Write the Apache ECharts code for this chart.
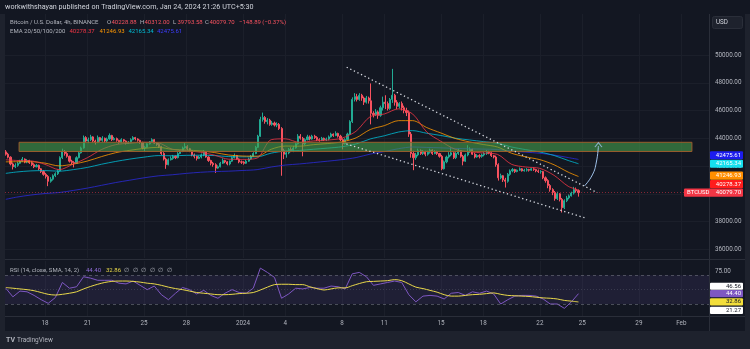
<!DOCTYPE html>
<html><head><meta charset="utf-8">
<script src="https://cdn.jsdelivr.net/npm/echarts@6/dist/echarts.min.js"></script>
<style>html,body{margin:0;padding:0;background:#1e222d;}#c{width:750px;height:349px;}</style>
</head><body><div id="c"></div><script>
// ---------------- DATA (chart local time, UTC+5:30, stored as UTC) ----------------
const candleStart = '2023-12-15 05:30';   // first 4h candle
const candleHours = 4;
const firstOpen = 43020;                  // open of the first candle; later opens = previous close
const closes = [
42850,42640,42150,41950,42050,
42200,42350,42500,42280,42400,42240,
42100,41950,42050,41800,41600,41400,
41250,40900,41050,41300,41450,41650,
42600,43050,42900,42700,42350,42250,
42200,42600,42950,43300,44050,43800,
43900,44100,43800,43700,44050,43850,
44000,43800,43950,44200,43900,43980,
43850,43700,43900,43800,43650,43720,
43900,44050,43950,43850,43700,43300,
43350,43600,43750,43900,43650,43550,
43400,42900,42500,42100,42450,42550,
42700,42600,42900,43050,43300,43400,
43250,43100,42800,42700,42550,42650,
42800,43000,42650,42400,42200,42100,
41850,41950,42200,42400,42300,42150,
42350,42600,42750,42500,42300,42280,
42200,42350,42500,42700,42900,43350,
44150,45350,45500,45200,45300,45000,
45100,44950,45000,44700,43100,42850,
42950,43200,43100,43300,43600,44150,
44000,43600,43900,44100,43950,44150,
44050,43900,43850,44000,43900,43950,
44100,44300,44200,44350,44150,43900,
43600,43900,44300,45200,46800,47000,
46800,47100,46900,46600,46900,46700,
45800,45700,45900,45650,46200,46600,
46500,46150,46800,47100,46600,46300,
46500,46200,46000,45850,44300,42900,
42600,42800,43100,42900,43000,42850,
43000,43150,42900,43050,42900,42700,
41800,42300,42650,42800,42950,42600,
42900,43100,42700,42350,42800,43050,
43200,42850,42650,42750,42700,42800,
42900,43000,42950,42750,42650,42100,
41150,41300,41000,40900,41400,41650,
41750,41600,41700,41800,41650,41700,
41750,41700,41800,41750,41650,41600,
41600,41150,40950,40600,40300,40100,
39650,40000,39600,39000,39500,39700,
39850,40050,40300,40228.88,40079.70];
const highs = [
43150,42950,42700,42250,42200,
42300,42450,42650,42550,42500,42450,
42350,42200,42150,42100,41850,41700,
41500,41350,41200,41400,41550,41750,
42700,43250,43150,43000,42750,42450,
42350,42700,43050,43400,44200,44150,
44050,44250,44150,43900,44200,44100,
44150,44050,44050,44350,44250,44100,
44050,43900,44000,43950,43850,43800,
44000,44150,44100,44000,43900,43750,
43450,43650,43800,44000,43950,43700,
43650,43450,43000,42600,42550,42700,
42800,42750,43000,43150,43400,43650,
43500,43300,43150,42900,42750,42750,
42900,43150,43050,42700,42450,42300,
42200,42050,42300,42550,42450,42350,
42400,42700,42900,42800,42550,42400,
42350,42450,42600,42800,43000,43450,
44250,45550,45850,45600,45450,45400,
45250,45200,45150,45100,44800,43250,
43100,43300,43350,43450,43700,44300,
44300,44100,44000,44250,44200,44250,
44250,44150,44000,44100,44050,44050,
44200,44400,44350,44500,44400,44250,
44000,44000,44400,45300,46950,47250,
47200,47250,47200,47000,47050,47000,
47950,45950,46100,46000,46350,47000,
47100,46650,46900,49000,47200,46750,
46600,46650,46350,46200,46000,44450,
43100,42950,43250,43200,43150,43100,
43100,43250,43200,43150,43100,42950,
42800,42400,42750,43000,43350,43000,
43000,43250,43150,42800,42900,43500,
43350,43250,42950,42850,42850,42900,
43000,43150,43100,43000,42800,42750,
42200,41450,41350,41150,41500,41750,
41850,41800,41750,41900,41850,41800,
41850,41800,41850,41900,41800,41750,
41700,41650,41250,41050,40700,40400,
40200,40150,40050,39700,39600,39850,
39950,40150,40500,40450,40312];
const lows = [
42750,42550,42050,41750,41850,
41950,42150,42300,42200,42200,42150,
42000,41850,41900,41700,41500,41300,
41100,40550,40800,40950,41200,41350,
41600,42500,42750,42600,42250,42100,
41900,42150,42550,42900,43250,43700,
43650,43800,43700,43550,43650,43750,
43750,43700,43700,43900,43800,43850,
43750,43600,43650,43700,43550,43600,
43650,43850,43850,43750,43600,43200,
43050,43300,43550,43700,43600,43450,
43300,42800,42400,41800,42050,42400,
42450,42500,42550,42850,43000,43250,
43150,43000,42700,42550,42400,42500,
42550,42700,42600,42300,42050,41950,
41500,41800,41900,42150,42200,42050,
42050,42300,42550,42450,42200,42150,
42100,42150,42300,42450,42650,42850,
43300,44100,45200,45050,45000,44900,
44900,44850,44800,44600,41300,42500,
42600,42850,43000,43000,43250,43550,
43900,42700,43500,43850,43850,43900,
43950,43800,43750,43800,43800,43800,
43850,44050,44100,44150,44050,43800,
43200,43550,43850,44250,45100,46650,
46650,46700,46700,46400,46500,46500,
45000,45500,45600,45400,45550,46000,
46100,46000,46050,46550,46350,46100,
46150,46000,45800,45600,44100,42600,
41700,42450,42700,42800,42800,42700,
42750,42900,42800,42850,42800,42600,
41700,41750,42200,42550,42700,42500,
42500,42800,42600,42050,42300,42700,
42950,42800,42550,42600,42550,42600,
42700,42800,42850,42650,42550,41950,
40950,41050,40850,40450,40800,41300,
41550,41500,41550,41650,41600,41600,
41600,41600,41650,41650,41550,41500,
41450,41050,40800,40400,40150,39900,
39500,39550,39450,38650,38900,39400,
39600,39800,39950,40100,39793.58];

// EMA readings: first candle, then each local midnight Dec 16 .. Jan 24, then last candle
const emaFirstTime = '2023-12-15 05:30';
const emaDailyStart = '2023-12-16 00:00';
const emaLastTime = '2024-01-24 17:30';
const ema20 = [42450,42400,42370,42120,41740,42140,42600,43190,43540,43640,43710,43670,43210,43110,42990,42780,42490,42480,42570,43900,43960,43700,43810,43870,44010,44510,45560,45750,46120,45750,44450,43780,43210,43030,42940,42840,42120,41930,41830,41330,40540,40278.37];
const ema50 = [42300,42310,42310,42210,42010,42140,42360,42680,42960,43130,43270,43350,43200,43150,43090,42970,42790,42720,42710,43210,43440,43430,43540,43620,43740,44030,44630,44910,45270,45270,44770,44380,43990,43740,43550,43370,42920,42660,42460,42090,41560,41246.93];
const ema100 = [41470,41570,41650,41670,41630,41740,41900,42130,42330,42500,42640,42750,42740,42770,42780,42750,42680,42660,42660,42930,43080,43120,43210,43290,43390,43590,43950,44180,44450,44550,44360,44200,44010,43880,43760,43640,43370,43180,43010,42760,42400,42165.34];
const ema200 = [39600,39760,39910,40020,40090,40240,40410,40610,40810,40980,41150,41290,41370,41470,41550,41600,41630,41680,41740,41930,42070,42150,42250,42350,42460,42610,42860,43040,43250,43370,43340,43310,43270,43240,43220,43190,43080,43000,42920,42790,42610,42475.61];

// RSI(14) and its SMA(14), read every 12 h from the first candle
const rsiStepHours = 12;
const rsi = [52,40,48,47,42,36,31,39,60,52, 54,68,66,63,63,63,59,58,62,56, 50,55,43,36,45,53,50,44,49,42, 38,45,50,46,45,52,80,74,67,38, 44,52,51,53,52,52,55,54,51,72, 74,68,56,58,60,62,60,43,33,41, 42,41,37,45,46,42,47,45,48,44, 30,36,41,42,42,41,37,30,30,24, 33,44.40];
const rsiMa = [53,52,51,50,48.5,46,43.5,42.5,43.5,45, 47,51,54.5,57.5,60,61.5,62,62,61.5,60.5, 59,58,56,53.5,51.5,50,48,46,45,44, 43,43,43.5,44.5,45,46,49.5,53.5,57,57.5, 57.5,57,57,54,51.5,49.5,51,52.5,52.5,55.5, 58.5,61,61.5,62,62.5,64,62.5,58,53.5,51.5, 49,46.5,43,41,41,42,43,43.5,44.5,45.5, 43.5,42,41.5,41,40.5,39.5,38.5,38,37,35, 34,32.86];
const rsiBandLabels = [46.56, 21.27];

// drawings
const zoneTimes = ['2023-12-16 04:00', '2024-02-01 18:00'];
const zonePrices = [43050, 43710];
const channelUpper = [['2024-01-08 08:00', 49120], ['2024-01-26 01:30', 40080]];
const channelLower = [['2024-01-08 07:30', 43590], ['2024-01-25 06:20', 38240]];
const arrowPath = [['2024-01-25 03:30', 40560], ['2024-01-25 17:00', 41360], ['2024-01-25 23:50', 42290], ['2024-01-26 03:15', 43440]];
const arrowTip = [['2024-01-26 03:20', 43520]];

// axes
const timeRange = ['2023-12-15 04:06', '2024-02-02 23:00'];
const timeTicks = ['2023-12-18','2023-12-21','2023-12-25','2023-12-28','2024-01-01','2024-01-04','2024-01-08','2024-01-11','2024-01-15','2024-01-18','2024-01-22','2024-01-25','2024-01-29','2024-02-01'];
const priceRange = [35373, 52954];
const priceTicks = [36000,38000,40000,42000,44000,46000,48000,50000];
const rsiRange = [13.3, 89.9];
const rsiTicks = [75];

// ---------------- BUILD ----------------
const HOUR = 3600e3;
function T(s){ const [d,tm] = s.split(' '); const [Y,M,D] = d.split('-').map(Number); const [h,m] = (tm||'00:00').split(':').map(Number); return Date.UTC(Y,M-1,D,h,m); }
const t0 = T(candleStart);
const candleData = closes.map((c,i)=>[t0 + i*candleHours*HOUR, i ? closes[i-1] : firstOpen, c, lows[i], highs[i]]);
function emaTime(k, n){ if(k===0) return T(emaFirstTime); if(k===n-1) return T(emaLastTime); return T(emaDailyStart) + (k-1)*24*HOUR; }
const emaSeries = (arr)=>arr.map((v,k)=>[emaTime(k,arr.length), v]);
const rsiSeries = (arr)=>arr.map((v,k)=>[t0 + k*rsiStepHours*HOUR, v]);
const P = a=>a.map(p=>[T(p[0]), p[1]]);

const FONT = 'Roboto, "Liberation Sans", sans-serif';
const txt = '#b2b5be';
const gridC = '#1b1f2a';
const UP = '#22ab94', DOWN = '#f7525f';
const C20='#f23645', C50='#ff9800', C100='#00bcd4', C200='#2a2ad8';
const MONTHS = ['Jan','Feb','Mar','Apr','May','Jun','Jul','Aug','Sep','Oct','Nov','Dec'];

const chart = echarts.init(document.getElementById('c'), null, {renderer:'canvas'});
const xBase = (grid, showLabel)=>({
  type:'value', gridIndex:grid, min:T(timeRange[0]), max:T(timeRange[1]),
  axisLine:{show:false}, axisTick:{show:false, customValues: timeTicks.map(T)},
  splitLine:{show:true, lineStyle:{color:gridC, width:1}},
  axisLabel:{show:showLabel, customValues: timeTicks.map(T), color:txt, fontSize:6.3, fontFamily:FONT, margin:4,
    formatter:(v)=>{ const d=new Date(v); if(d.getUTCDate()===1){ return d.getUTCMonth()===0 ? String(d.getUTCFullYear()) : MONTHS[d.getUTCMonth()]; } return String(d.getUTCDate()); }}
});
const option = {
  animation:false, backgroundColor:'#1e222d',
  grid:[{left:5, right:41, top:14, height:244},{left:5, right:41, top:261, height:55}],
  xAxis:[xBase(0,false), xBase(1,true)],
  yAxis:[
    {type:'value', gridIndex:0, position:'right', min:priceRange[0], max:priceRange[1],
     axisLine:{show:false}, axisTick:{show:false, customValues:priceTicks},
     splitLine:{show:true, lineStyle:{color:gridC}},
     axisLabel:{customValues:priceTicks, formatter:v=>v.toFixed(2), color:txt, fontSize:6.3, fontFamily:FONT, align:'left', margin:6}},
    {type:'value', gridIndex:1, position:'right', min:rsiRange[0], max:rsiRange[1],
     axisLine:{show:false}, axisTick:{show:false, customValues:rsiTicks}, splitLine:{show:false},
     axisLabel:{customValues:rsiTicks, formatter:v=>v.toFixed(2), color:txt, fontSize:6.3, fontFamily:FONT, align:'left', margin:6}}
  ],
  series:[
    {type:'candlestick', name:'BTCUSD', xAxisIndex:0, yAxisIndex:0, data:candleData, barWidth:1.6, z:3,
     encode:{x:0, y:[1,2,3,4]},
     itemStyle:{color:UP, color0:DOWN, borderColor:UP, borderColor0:DOWN, borderWidth:1},
     markLine:{silent:true, symbol:['none','none'], label:{show:false}, animation:false,
       lineStyle:{color:'rgba(242,54,69,0.5)', type:[1,2], width:1}, data:[{yAxis:closes[closes.length-1]}]}},
    {type:'line', name:'EMA200', data:emaSeries(ema200), showSymbol:false, smooth:0.3, lineStyle:{color:C200, width:1, opacity:0.8}, z:4},
    {type:'line', name:'EMA100', data:emaSeries(ema100), showSymbol:false, smooth:0.3, lineStyle:{color:C100, width:1, opacity:0.8}, z:4},
    {type:'line', name:'EMA50', data:emaSeries(ema50), showSymbol:false, smooth:0.3, lineStyle:{color:C50, width:1, opacity:0.8}, z:4},
    {type:'line', name:'EMA20', data:emaSeries(ema20), showSymbol:false, smooth:0.3, lineStyle:{color:C20, width:1, opacity:0.8}, z:4},
    {type:'line', name:'zone+channel', data:P(channelUpper), showSymbol:false, z:6,
     lineStyle:{color:'#d6d9e0', width:1.3, type:[1.3,2.7]},
     markArea:{silent:true, z:5, itemStyle:{color:'rgba(70,160,76,0.6)', borderColor:'#9b5d2c', borderWidth:1},
       data:[[{xAxis:T(zoneTimes[0]), yAxis:zonePrices[0]},{xAxis:T(zoneTimes[1]), yAxis:zonePrices[1]}]]}},
    {type:'line', name:'channelLower', data:P(channelLower), showSymbol:false, z:6, lineStyle:{color:'#d6d9e0', width:1.3, type:[1.3,2.7]}},
    {type:'line', name:'arrow', data:P(arrowPath), showSymbol:false, smooth:0.5, z:6, lineStyle:{color:'#9fc2ea', width:1}},
    {type:'scatter', name:'arrowHead', data:P(arrowTip), symbol:'path://M0,6 L4,0 L8,6', symbolSize:[7,4.5], z:7,
     itemStyle:{color:'rgba(0,0,0,0)', borderColor:'#9fc2ea', borderWidth:1}},
    {type:'line', name:'RSI', xAxisIndex:1, yAxisIndex:1, data:rsiSeries(rsi), showSymbol:false, lineStyle:{color:'#7e57c2', width:1}, z:4,
     markArea:{silent:true, itemStyle:{color:'rgba(126,87,194,0.12)'}, data:[[{yAxis:70},{yAxis:30}]]},
     markLine:{silent:true, symbol:['none','none'], label:{show:false},
       lineStyle:{color:'#787b86', type:[3,3], width:1, opacity:0.55}, data:[{yAxis:70},{yAxis:30},{yAxis:50, lineStyle:{type:[1,2], opacity:0.3}}]}},
    {type:'line', name:'RSI MA', xAxisIndex:1, yAxisIndex:1, data:rsiSeries(rsiMa), showSymbol:false, smooth:0.3, lineStyle:{color:'#e9d84a', width:1}, z:5}
  ]
};
chart.setOption(option);

// ---------------- TEXT / LABELS ----------------
const G = [];
const tx = (x,y,s,fill,extra,z)=>G.push({type:'text', x, y, silent:true, z:z||50,
  style:Object.assign({text:s, fill, font:'6px '+FONT, textVerticalAlign:'middle'}, extra||{})});
G.push({type:'rect', shape:{x:5,y:14,width:740,height:317}, style:{fill:'#131722'}, z:-100, silent:true});
G.push({type:'rect', shape:{x:0,y:0,width:750,height:14}, style:{fill:'#131722'}, z:-100, silent:true});
G.push({type:'line', shape:{x1:5,y1:259.5,x2:745,y2:259.5}, style:{stroke:'#2a2e39', lineWidth:1}, z:40, silent:true});
G.push({type:'line', shape:{x1:709.5,y1:14,x2:709.5,y2:331}, style:{stroke:'#2a2e39', lineWidth:1}, z:40, silent:true});
G.push({type:'line', shape:{x1:5,y1:316.5,x2:745,y2:316.5}, style:{stroke:'#2a2e39', lineWidth:1}, z:40, silent:true});
tx(5,7.5,'workwithshayan published on TradingView.com, Jan 24, 2024 21:26 UTC+5:30','#d1d4dc',{font:'7.2px '+FONT});
tx(10,22.5,'Bitcoin / U.S. Dollar, 4h, BINANCE',txt);
const ohlc = [['O','40228.88',107],['H','40312.00',140],['L','39793.58',173],['C','40079.70',205]];
ohlc.forEach(([k,v,x])=>{ tx(x,22.5,k,txt); tx(x+4.5,22.5,v,DOWN); });
tx(239,22.5,'\u2212148.89 (\u22120.37%)',DOWN);
tx(10,31.5,'EMA 20/50/100/200',txt);
[[ema20,C20,69.5],[ema50,C50,99.5],[ema100,C100,128.5],[ema200,'#3d3dff',157]].forEach(([a,c,x])=>tx(x,31.5,a[a.length-1].toFixed(2),c));
tx(10,270,'RSI (14, close, SMA, 14, 2)',txt);
tx(86,270,rsi[rsi.length-1].toFixed(2),'#8f6bd6');
tx(106,270,rsiMa[rsiMa.length-1].toFixed(2),'#e9d84a');
for(let i=0;i<6;i++) tx(124+i*8.5,270,'\u2205',txt);
G.push({type:'rect', shape:{x:712.5,y:16.5,width:30,height:12,r:2}, style:{fill:'#1e222d', stroke:'#2a2e39', lineWidth:1}, z:45, silent:true});
tx(716,22.5,'USD','#d1d4dc',{font:'6.3px '+FONT});
tx(6,340,'TV','#b2b5be',{font:'bold 7px '+FONT});
tx(17,340,'TradingView','#b2b5be',{font:'6.5px '+FONT});

function stackLabels(items, axisIdx, gap){
  let prev = null;
  items.forEach(it=>{ let y = chart.convertToPixel({yAxisIndex:axisIdx}, it.v); if(prev!==null && y > prev-gap) y = prev-gap; it.y = y; prev = y; });
  return items;
}
const priceLabels = stackLabels([
  {v:closes[closes.length-1], bg:'#f23645', fg:'#fff', wide:true, h:8.2},
  {v:ema20[ema20.length-1], bg:'#ff1c1c', fg:'#fff', h:8.2},
  {v:ema50[ema50.length-1], bg:'#ff8f00', fg:'#fff', h:8.2},
  {v:ema100[ema100.length-1], bg:'#16e0ee', fg:'#f4feff', h:8.2},
  {v:ema200[ema200.length-1], bg:'#1c1cee', fg:'#fff', h:8.2}
], 0, 8.5);
const rsiLbls = stackLabels([
  {v:rsiBandLabels[1], bg:'#ffffff', fg:'#131722', h:7.2},
  {v:rsiMa[rsiMa.length-1], bg:'#f2de3a', fg:'#131722', h:7.2},
  {v:rsi[rsi.length-1], bg:'#7e57c2', fg:'#fff', h:7.2},
  {v:rsiBandLabels[0], bg:'#ffffff', fg:'#131722', h:7.2}
], 1, 7.4);
[...priceLabels, ...rsiLbls].forEach(it=>{
  const x0 = it.wide ? 684 : 710;
  G.push({type:'rect', shape:{x:x0, y:it.y-it.h/2, width:743-x0, height:it.h, r:1}, style:{fill:it.bg}, z:60, silent:true});
  if(it.wide) tx(687, it.y, 'BTCUSD', it.fg, {font:'6px '+FONT}, 61);
  tx(741, it.y, it.v.toFixed(2), it.fg, {font:'6px '+FONT, textAlign:'right'}, 61);
});
chart.setOption({graphic:{elements:G}});
</script></body></html>
